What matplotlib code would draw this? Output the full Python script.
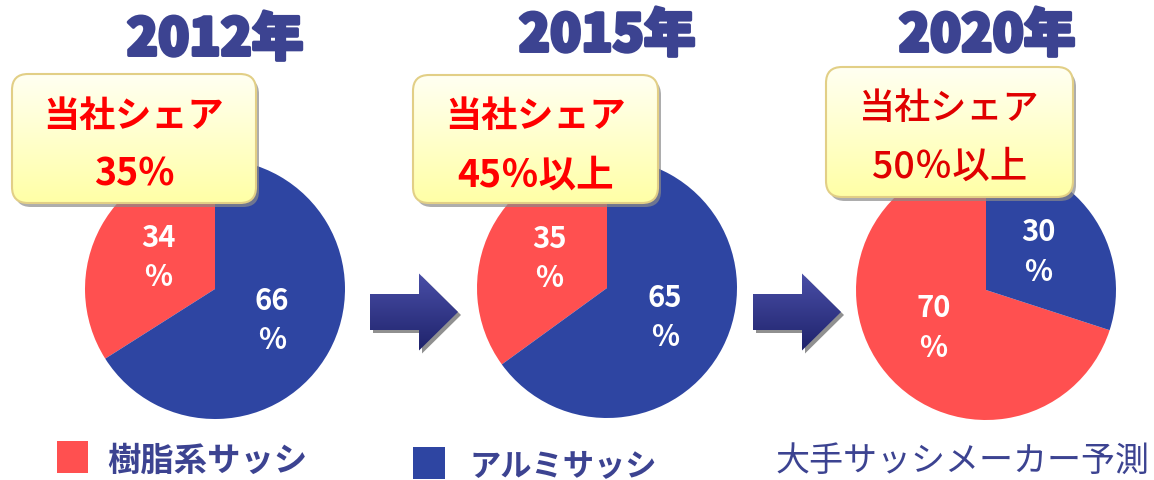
import numpy as np
import matplotlib
matplotlib.use("Agg")
import matplotlib.pyplot as plt
import matplotlib.patheffects as pe
from matplotlib.patches import FancyBboxPatch, FancyArrow, Rectangle
from matplotlib.colors import LinearSegmentedColormap

plt.rcParams['font.family'] = ['Noto Sans CJK JP', 'DejaVu Sans']

# data
years = ['2012年', '2015年', '2020年']
resin_share = [34, 35, 70]      # 樹脂系サッシ
alu_share = [66, 65, 30]        # アルミサッシ
own_share = ['35%', '45％以上', '50％以上']
legend_labels = ['樹脂系サッシ', 'アルミサッシ']
note = '大手サッシメーカー予測'

RED = '#ff5050'
BLUE = '#2e45a2'
NAVY = '#3c4391'

W, H = 1154, 480
fig = plt.figure(figsize=(W / 100, H / 100), dpi=100)
ax = fig.add_axes([0, 0, 1, 1])


def Y(py):
    # pixel row -> axis y
    return H - py


# layout (pixel coords of the reference)
pie_centers = [(215, 289), (607, 288), (986, 290)]
pie_r = 130
title_pos = [(215, 40), (607, 36), (987, 36)]
boxes = [(12, 74, 256, 203), (413, 75, 658, 203), (826, 67, 1073, 197)]
arrow_x = [370, 753]

for vals, (cx, cy) in zip(zip(resin_share, alu_share), pie_centers):
    ax.pie(vals, colors=[RED, BLUE], startangle=90, counterclock=True,
           center=(cx, Y(cy)), radius=pie_r, frame=True,
           autopct=lambda p: f'{p:.0f}\n%', pctdistance=0.5,
           textprops=dict(color='white', fontsize=21, linespacing=1.4,
                          fontweight='bold'),
           wedgeprops=dict(linewidth=0))

for t, (x, y) in zip(years, title_pos):
    ax.text(x, Y(y), t, ha='center', va='center', fontsize=37,
            fontweight='heavy', color=NAVY,
            path_effects=[pe.withStroke(linewidth=2.5, foreground=NAVY)])

# callout boxes with a yellow gradient
box_cmap = LinearSegmentedColormap.from_list('bx', ['#fffff2', '#ffffa6'])
grad = np.linspace(0, 1, 200).reshape(-1, 1)
for i, ((x0, y0, x1, y1), s) in enumerate(zip(boxes, own_share)):
    shadow = FancyBboxPatch((x0 + 3, Y(y1) - 4), x1 - x0, y1 - y0,
                            boxstyle='round,pad=0,rounding_size=16',
                            fc='#8a8a8a', ec='none', alpha=0.7, zorder=3)
    ax.add_patch(shadow)
    box = FancyBboxPatch((x0, Y(y1)), x1 - x0, y1 - y0,
                         boxstyle='round,pad=0,rounding_size=16',
                         fc='none', ec='#e2cf86', lw=1.5, zorder=5)
    ax.add_patch(box)
    im = ax.imshow(grad, cmap=box_cmap, extent=(x0, x1, Y(y1), Y(y0)),
                   origin='upper', aspect='auto', zorder=4)
    im.set_clip_path(box)
    xc = (x0 + x1) / 2
    wt = 'bold' if i < 2 else 'medium'
    col = '#ff0000' if i < 2 else '#e00000'
    ax.text(xc, Y(y0 + 42), '当社シェア', ha='center', va='center',
            fontsize=26, fontweight=wt, color=col, zorder=6)
    ax.text(xc, Y(y0 + 100), s, ha='center', va='center',
            fontsize=27, fontweight=wt, color=col, zorder=6)

# arrows
arr_cmap = LinearSegmentedColormap.from_list('ar', ['#4a4fa8', '#1e226a'])
for ax0 in arrow_x:
    sh = FancyArrow(ax0 + 3, Y(312) - 3, 88, 0, width=36, head_width=77,
                    head_length=39, length_includes_head=True,
                    fc='#909090', ec='none', zorder=3)
    ax.add_patch(sh)
    arr = FancyArrow(ax0, Y(312), 88, 0, width=36, head_width=77,
                     head_length=39, length_includes_head=True,
                     fc='none', ec='none', zorder=4)
    ax.add_patch(arr)
    im = ax.imshow(grad, cmap=arr_cmap, extent=(ax0, ax0 + 90, Y(352), Y(272)),
                   origin='upper', aspect='auto', zorder=4)
    im.set_clip_path(arr)

# legend
ax.add_patch(Rectangle((57, Y(473)), 31, 32, fc=RED, ec='none'))
ax.text(107, Y(461), legend_labels[0], ha='left', va='center', fontsize=24,
        fontweight='bold', color=NAVY)
ax.add_patch(Rectangle((413, Y(479)), 32, 32, fc=BLUE, ec='none'))
ax.text(469, Y(466), legend_labels[1], ha='left', va='center', fontsize=22.5,
        fontweight='bold', color=NAVY)
ax.text(776, Y(461), note, ha='left', va='center', fontsize=24.5,
        color=NAVY)

ax.set_xlim(0, W)
ax.set_ylim(0, H)
ax.set_aspect('auto')
ax.axis('off')

fig.savefig('out.png', dpi=100)
